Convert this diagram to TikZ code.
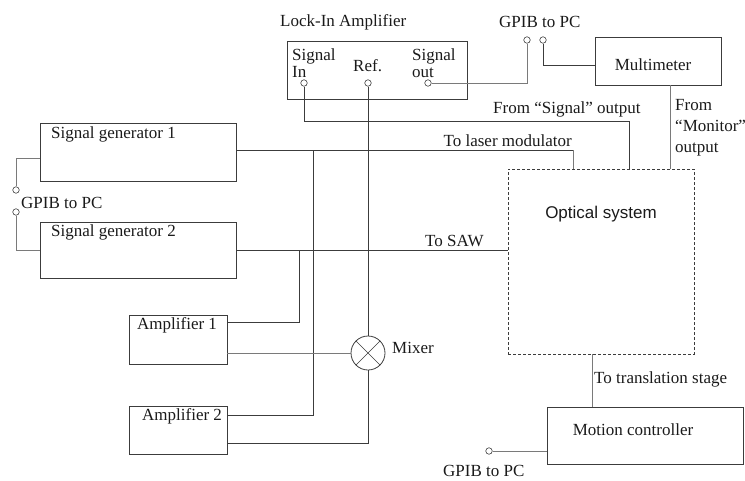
\documentclass[tikz,border=0pt]{standalone}
\usepackage{fontspec}
\setmainfont{Liberation Serif}
\newfontfamily\sansf{Liberation Sans}
\definecolor{linec}{HTML}{3C3C3C}
\definecolor{lightc}{HTML}{7A7A7A}
\definecolor{txtc}{HTML}{1A1A1A}
\begin{document}
\begin{tikzpicture}[x=1pt,y=-1pt]
\tikzset{
 box/.style={draw=linec, line width=0.8pt, inner sep=0pt, outer sep=0pt},
 dbox/.style={box, dash pattern=on 3pt off 2pt},
 wire/.style={draw=linec, line width=0.8pt},
 lwire/.style={draw=lightc, line width=0.8pt},
 port/.style={circle, draw=linec, fill=white, line width=0.6pt, minimum size=6.5pt, inner sep=0pt},
 txt/.style={inner sep=0pt, text=txtc, font=\fontsize{17}{19}\selectfont},
 mix/.style={circle, draw=linec, line width=0.8pt, minimum size=34pt, inner sep=0pt,
   path picture={\draw[linec, line width=0.6pt] (path picture bounding box.north west) -- (path picture bounding box.south east) (path picture bounding box.north east) -- (path picture bounding box.south west);}},
}
\useasboundingbox (0,0) rectangle (745,480);

% boxes
\node[box, minimum width=180pt, minimum height=58pt] (lockin) at (377,70) {};
\node[box, minimum width=126pt, minimum height=48pt] (mm) at (658,61) {};
\node[box, minimum width=196pt, minimum height=58pt] (sg1) at (138,152) {};
\node[box, minimum width=196pt, minimum height=56pt] (sg2) at (138,250) {};
\node[box, minimum width=98pt, minimum height=49pt] (amp1) at (178,339.5) {};
\node[box, minimum width=98pt, minimum height=48pt] (amp2) at (178,430) {};
\node[dbox, minimum width=186pt, minimum height=185pt] (opt) at (601,261.5) {};
\node[box, minimum width=196pt, minimum height=57pt] (mc) at (645,435.5) {};
\node[mix] (mixer) at (368,353) {};

% ports
\node[port] (pin) at (304,83) {};
\node[port] (pref) at (368,83) {};
\node[port] (pout) at (428,83) {};
\node[port] (g1) at (527,40) {};
\node[port] (g2) at (543,40) {};
\node[port] (gl1) at (16,190) {};
\node[port] (gl2) at (16,212) {};
\node[port] (gb) at (489,451) {};

% junction coordinates
\coordinate (lm) at (573,150);
\coordinate (ja) at (313,150);
\coordinate (jb) at (313,415);
\coordinate (jc) at (299,250);
\coordinate (jd) at (299,322);
\coordinate (je) at (368,443);
\coordinate (jf) at (304,121);
\coordinate (jg) at (629,121);
\coordinate (jh) at (543,65);
\coordinate (mon) at (670,0);
\coordinate (tr) at (592,0);
\coordinate (jl1) at (16,158);
\coordinate (jl2) at (16,250);

% wires
\draw[wire] (sg1.east |- lm) -- (lm);
\draw[lwire] (lm) -- (lm |- opt.north);
\draw[wire] (ja) -- (jb) -- (amp2.east |- jb);
\draw[wire] (sg2.east) -- (sg2.east -| opt.west);
\draw[wire] (jc) -- (jd) -- (amp1.east |- jd);
\draw[lwire] (amp1.east |- mixer.west) -- (mixer.west);
\draw[wire] (amp2.east |- je) -- (je) -- (mixer.south);
\draw[wire] (pref) -- (mixer.north);
\draw[wire] (pin) -- (jf) -- (jg) -- (jg |- opt.north);
\draw[lwire] (pout) -- (pout -| g1) -- (g1);
\draw[wire] (g2) -- (jh) -- (mm.west |- jh);
\draw[lwire] (mm.south -| mon) -- (opt.north -| mon);
\draw[lwire] (opt.south -| tr) -- (mc.north -| tr);
\draw[lwire] (gb) -- (gb -| mc.west);
\draw[lwire] (sg1.west |- jl1) -- (jl1) -- (gl1);
\draw[lwire] (gl2) -- (jl2) -- (sg2.west |- jl2);

% texts
\node[txt, anchor=base west] (tlock) at (280,26) {Lock-In Amplifier};
\node[txt, anchor=base west] (tsin1) at (292,60) {Signal};
\node[txt, anchor=base west] (tsin2) at (292,77) {In};
\node[txt, anchor=base west] (tref) at (353,71) {Ref.};
\node[txt, anchor=base west] (tso1) at (412,60) {Signal};
\node[txt, anchor=base west] (tso2) at (412,77) {out};
\node[txt, anchor=base west] (tgt) at (499,27) {GPIB to PC};
\node[txt, anchor=base] (tmm) at (653,70) {Multimeter};
\node[txt, anchor=base west] (tfs) at (493,113) {From “Signal” output};
\node[txt, anchor=base east] (tlm) at (572,146) {To laser modulator};
\node[txt, anchor=base west] (tm1) at (675,110) {From};
\node[txt, anchor=base west] (tm2) at (675,131) {“Monitor”};
\node[txt, anchor=base west] (tm3) at (675,152) {output};
\node[txt, anchor=base west] (tsg1) at (51,138) {Signal generator 1};
\node[txt, anchor=base west] (tsg2) at (51,236) {Signal generator 2};
\node[txt, anchor=base west] (tgl) at (21,208) {GPIB to PC};
\node[txt, anchor=base west] (tsaw) at (425,246) {To SAW};
\node[txt, font=\sansf\fontsize{17}{19}\selectfont, anchor=base] (topt) at (601,218) {Optical system};
\node[txt, anchor=base west] (ta1) at (137,329) {Amplifier 1};
\node[txt, anchor=base west] (ta2) at (142,420) {Amplifier 2};
\node[txt, anchor=base west] (tmix) at (392,353) {Mixer};
\node[txt, anchor=base west] (tts) at (594,383) {To translation stage};
\node[txt, anchor=base] (tmc) at (633,435) {Motion controller};
\node[txt, anchor=base west] (tgb) at (443,476) {GPIB to PC};
\end{tikzpicture}
\end{document}
